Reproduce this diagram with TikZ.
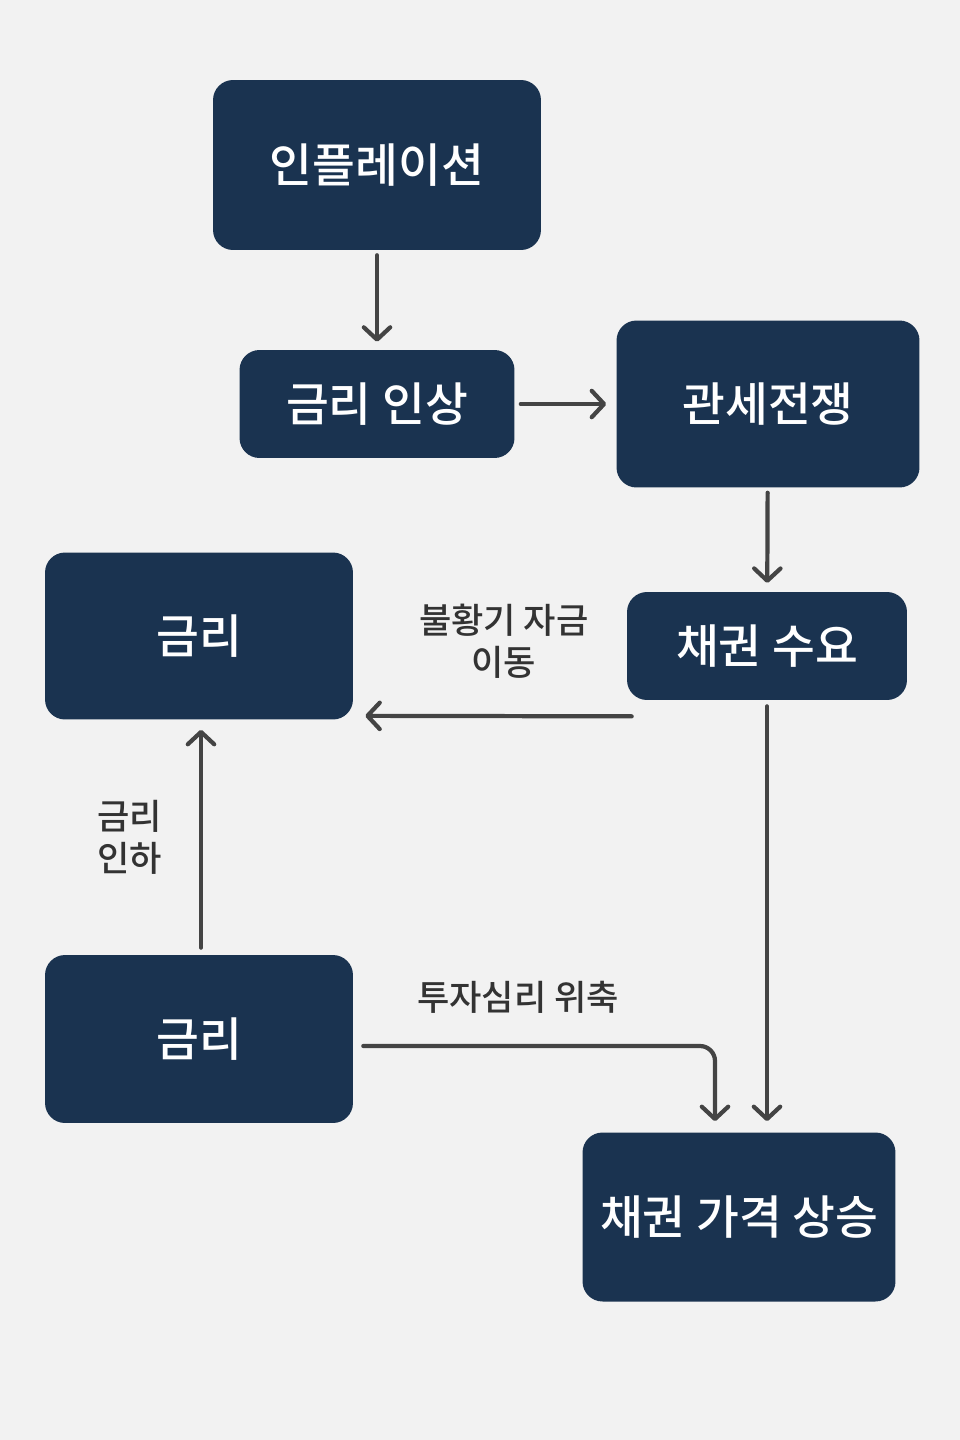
\documentclass[tikz,border=0pt]{standalone}
\usepackage{fontspec}
\setmainfont{Noto Sans CJK KR}[BoldFont={Noto Sans CJK KR Medium}]
\usetikzlibrary{arrows.meta}
\definecolor{boxblue}{HTML}{1A3350}
\definecolor{bggray}{HTML}{F2F2F2}
\definecolor{arrgray}{HTML}{444444}
\definecolor{txtgray}{HTML}{333333}
\begin{document}
\begin{tikzpicture}[x=0.02cm,y=-0.02cm,
    box/.style={fill=boxblue,rounded corners=0.4cm,text=white,align=center,
        font=\fontsize{26.5}{30}\selectfont\bfseries,inner sep=0pt},
    arr/.style={draw=arrgray,line width=2.4pt,line cap=round,
        -{Straight Barb[round,length=7pt,width=15pt]}},
    lbl/.style={text=txtgray,align=center,font=\fontsize{20}{24}\selectfont\bfseries}]
    % background
    \fill[bggray] (0,0) rectangle (960,1440);
    % boxes
    \node[box,minimum width=6.56cm,minimum height=3.4cm] (infl) at (377,165) {인플레이션};
    \node[box,minimum width=5.5cm,minimum height=2.16cm] (raise) at (377,404) {금리 인상};
    \node[box,minimum width=6.06cm,minimum height=3.34cm] (war) at (768,404) {관세전쟁};
    \node[box,minimum width=5.6cm,minimum height=2.16cm] (demand) at (767,646) {채권 수요};
    \node[box,minimum width=6.16cm,minimum height=3.34cm] (rateup) at (199,636) {금리};
    \node[box,minimum width=6.16cm,minimum height=3.36cm] (ratedown) at (199,1039) {금리};
    \node[box,minimum width=6.26cm,minimum height=3.38cm] (price) at (739,1217) {채권 가격 상승};
    % inflation chain
    \draw[arr,shorten <=2.8pt,shorten >=4.5pt] (infl) -- (raise);
    \draw[arr,shorten <=3.4pt,shorten >=5.7pt] (raise) -- (war);
    \draw[arr,shorten <=2.8pt,shorten >=5pt] (war) -- (demand);
    % flight to safety
    \draw[arr] ([shift={(5,16)}]demand.south west) -- ([shift={(12,-4)}]rateup.south east)
        node[lbl,pos=0.48,above=0.6cm] {불황기 자금\\이동};
    % rate cut
    \draw[arr,shorten <=4pt,shorten >=5.7pt] ([shift={(2,0)}]ratedown.north) -- ([shift={(2,0)}]rateup.south)
        node[lbl,pos=0.5,left=0.62cm] {금리\\인하};
    % sentiment
    \coordinate (pricein) at ([shift={(-24,0)}]price.north);
    \draw[arr,rounded corners=0.3cm,shorten >=6.3pt] ([shift={(10,7)}]ratedown.east) -| (pricein)
        node[lbl,pos=0.22,above=0.5cm] {투자심리 위축};
    % demand to price
    \draw[arr,shorten <=3.4pt,shorten >=6.3pt] (demand.south) -- (demand.south |- price.north);
\end{tikzpicture}
\end{document}
